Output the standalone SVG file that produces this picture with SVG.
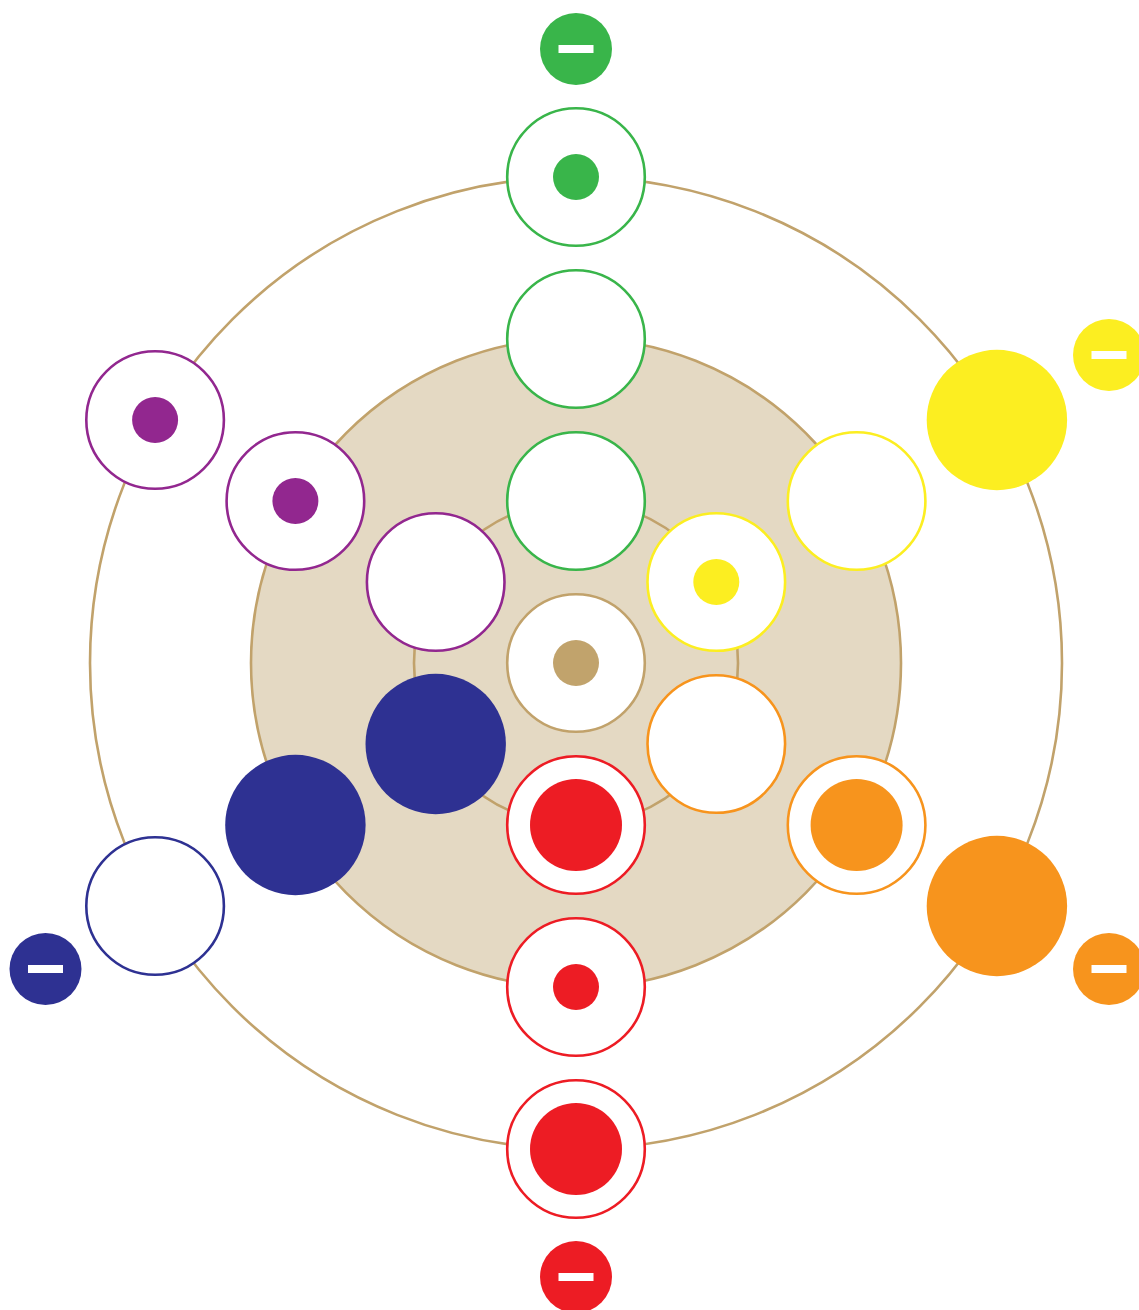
<svg xmlns="http://www.w3.org/2000/svg" width="1139" height="1310" viewBox="0 0 1139 1310">
<style>
.ring{fill:#fff;stroke-width:2.6}
.g{stroke:#39b54a}.gf{fill:#39b54a}
.r{stroke:#ed1c24}.rf{fill:#ed1c24}
.n{stroke:#2e3192}.nf{fill:#2e3192}
.p{stroke:#92278f}.pf{fill:#92278f}
.y{stroke:#fcee21}.yf{fill:#fcee21}
.o{stroke:#f7941d}.of{fill:#f7941d}
.t{stroke:#c1a26b}.tf{fill:#c1a36c}
.bar{fill:#fff}
</style>
<rect width="1139" height="1310" fill="#fff"/>
<g id="background">
<circle cx="576" cy="663" r="486" fill="none" stroke="#c1a26b" stroke-width="2.6"/>
<circle cx="576" cy="663" r="325" fill="#e4d9c3" stroke="#c1a26b" stroke-width="2.6"/>
<circle cx="576" cy="663" r="162" fill="none" stroke="#c1a26b" stroke-width="2.6"/>
</g>
<g id="connectors"></g>
<g id="green-minus"><circle class="gf" cx="576" cy="49" r="36"/><rect class="bar" x="558.5" y="45" width="35" height="8"/></g>
<g id="green-1"><circle class="ring g" cx="576" cy="177" r="68.8"/><circle class="gf" cx="576" cy="177" r="23"/></g>
<g id="green-2"><circle class="ring g" cx="576" cy="339" r="68.8"/></g>
<g id="green-3"><circle class="ring g" cx="576" cy="501" r="68.8"/></g>
<g id="center"><circle class="ring t" cx="576" cy="663" r="68.8"/><circle class="tf" cx="576" cy="663" r="23"/></g>
<g id="red-3"><circle class="ring r" cx="576" cy="825" r="68.8"/><circle class="rf" cx="576" cy="825" r="46"/></g>
<g id="red-2"><circle class="ring r" cx="576" cy="987" r="68.8"/><circle class="rf" cx="576" cy="987" r="23"/></g>
<g id="red-1"><circle class="ring r" cx="576" cy="1149" r="68.8"/><circle class="rf" cx="576" cy="1149" r="46"/></g>
<g id="red-minus"><circle class="rf" cx="576" cy="1277" r="36"/><rect class="bar" x="558.5" y="1273" width="35" height="8"/></g>
<g id="purple-3"><circle class="ring p" cx="435.7" cy="582" r="68.8"/></g>
<g id="purple-2"><circle class="ring p" cx="295.4" cy="501" r="68.8"/><circle class="pf" cx="295.4" cy="501" r="23"/></g>
<g id="purple-1"><circle class="ring p" cx="155.1" cy="420" r="68.8"/><circle class="pf" cx="155.1" cy="420" r="23"/></g>
<g id="navy-3"><circle class="nf" cx="435.7" cy="744" r="70.2"/></g>
<g id="navy-2"><circle class="nf" cx="295.4" cy="825" r="70.2"/></g>
<g id="navy-1"><circle class="ring n" cx="155.1" cy="906" r="68.8"/></g>
<g id="navy-minus"><circle class="nf" cx="45.5" cy="969" r="36"/><rect class="bar" x="28" y="965" width="35" height="8"/></g>
<g id="yellow-3"><circle class="ring y" cx="716.3" cy="582" r="68.8"/><circle class="yf" cx="716.3" cy="582" r="23"/></g>
<g id="yellow-2"><circle class="ring y" cx="856.6" cy="501" r="68.8"/></g>
<g id="yellow-1"><circle class="yf" cx="996.9" cy="420" r="70.2"/></g>
<g id="yellow-minus"><circle class="yf" cx="1109" cy="355" r="36"/><rect class="bar" x="1091.5" y="351" width="35" height="8"/></g>
<g id="orange-3"><circle class="ring o" cx="716.3" cy="744" r="68.8"/></g>
<g id="orange-2"><circle class="ring o" cx="856.6" cy="825" r="68.8"/><circle class="of" cx="856.6" cy="825" r="46"/></g>
<g id="orange-1"><circle class="of" cx="996.9" cy="906" r="70.2"/></g>
<g id="orange-minus"><circle class="of" cx="1109" cy="969" r="36"/><rect class="bar" x="1091.5" y="965" width="35" height="8"/></g>
</svg>
